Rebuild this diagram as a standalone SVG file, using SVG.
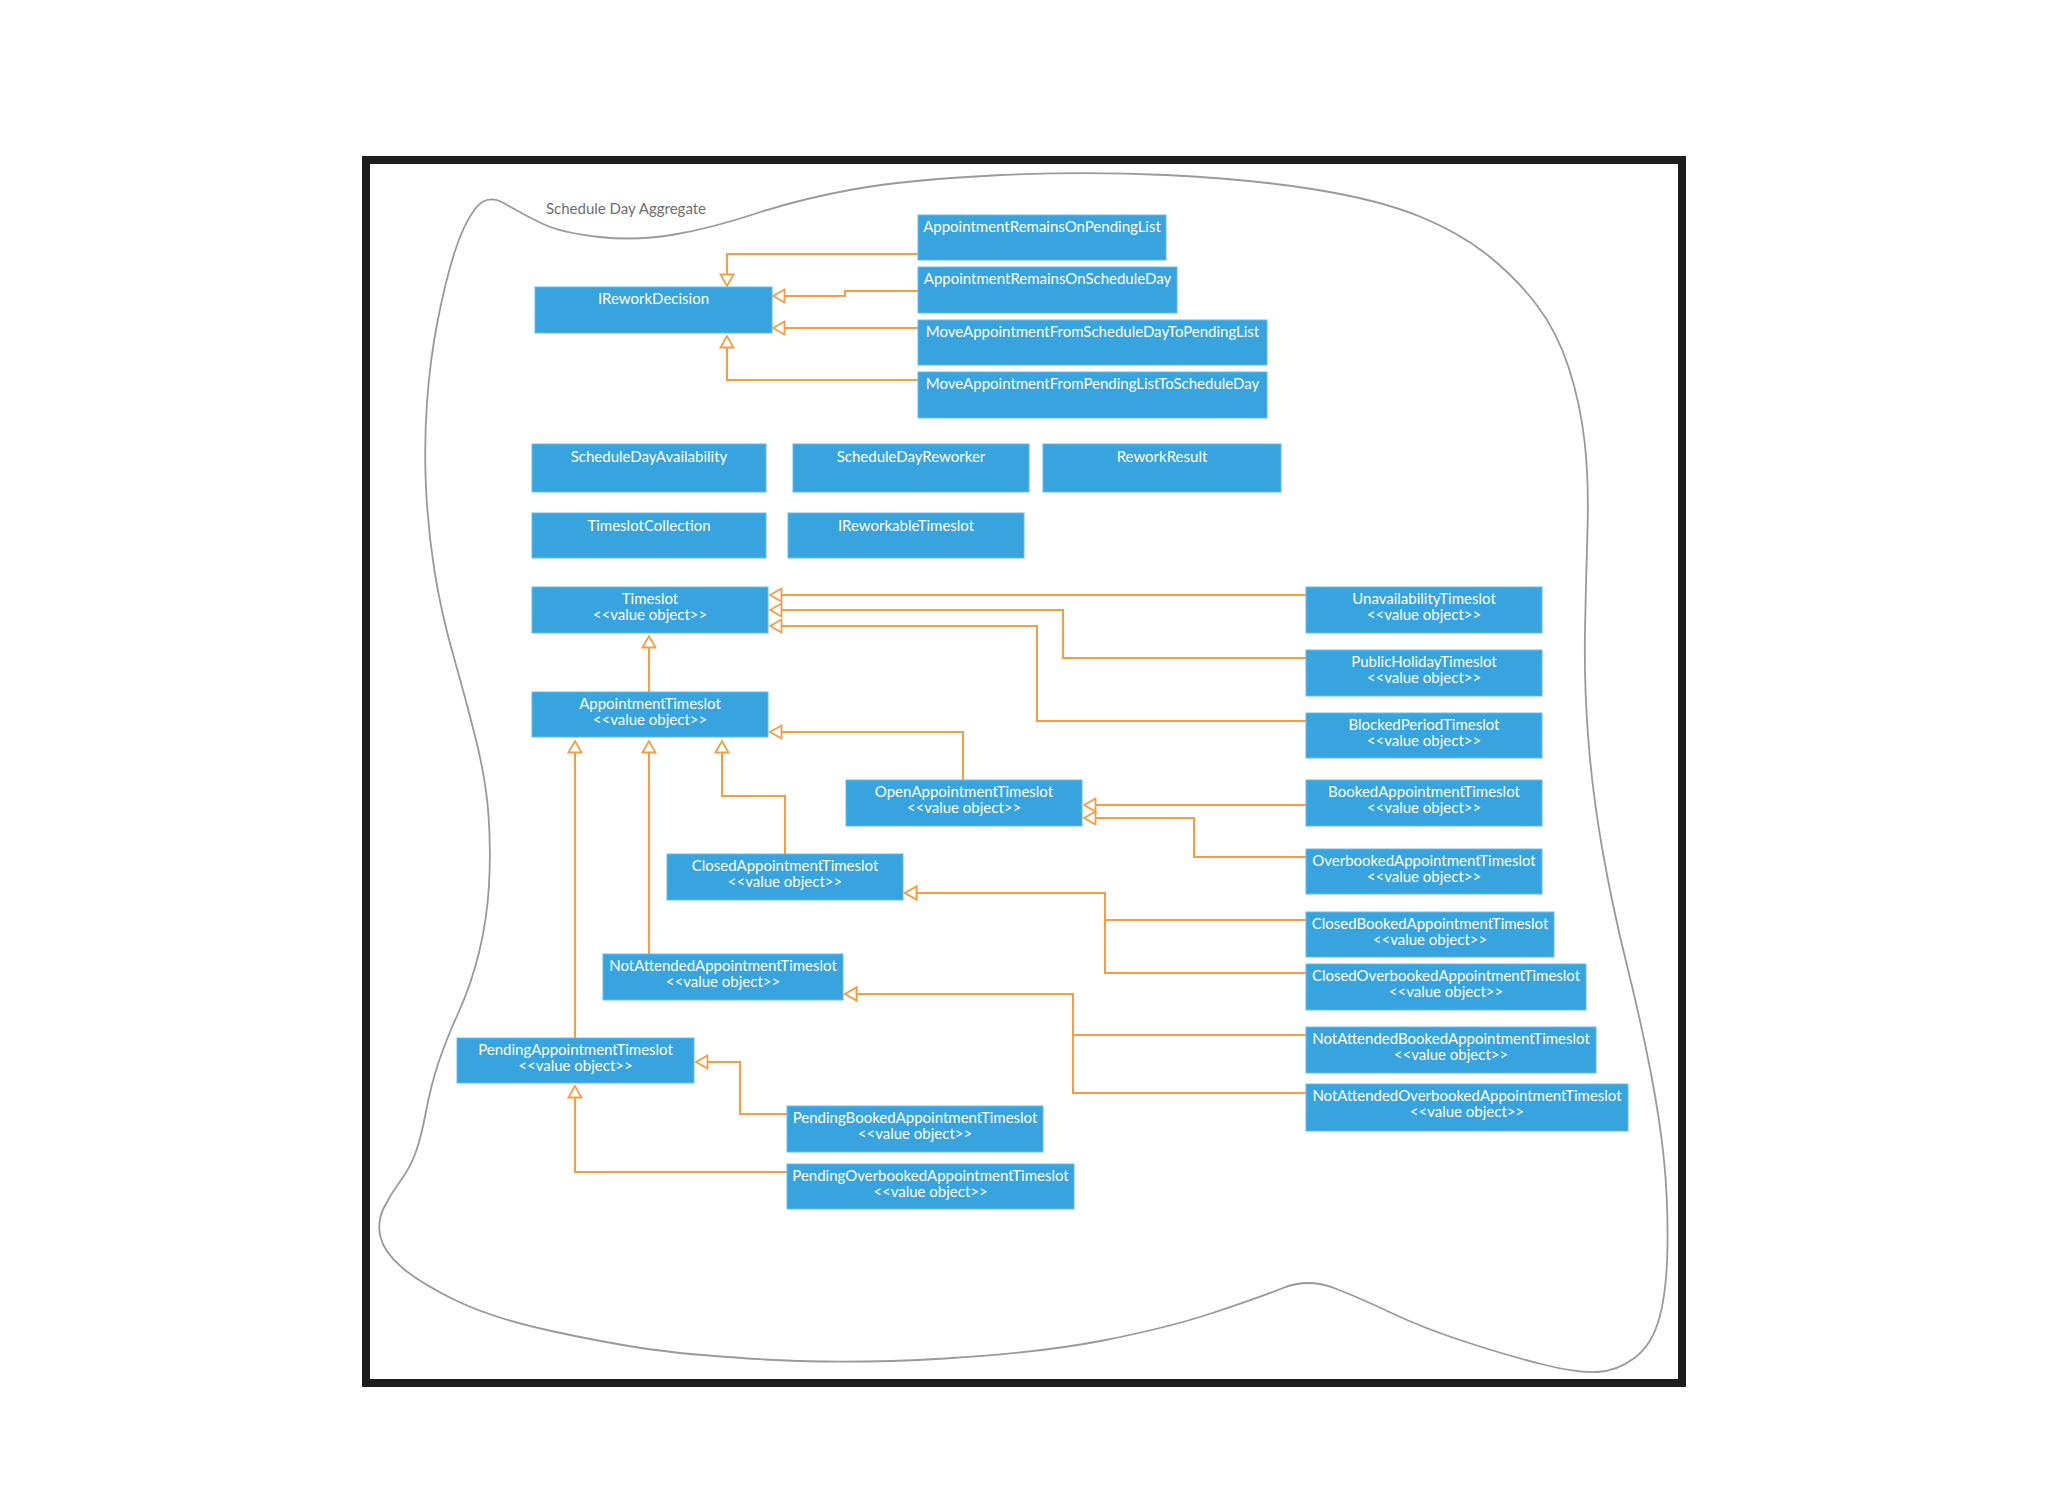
<svg xmlns="http://www.w3.org/2000/svg" width="2048" height="1492" viewBox="0 0 2048 1492">
<defs>
<style>
.node rect{fill:#37a3df;stroke:#66bbeb;stroke-width:1}
.node text{font-family:Lato,"Noto Sans","Liberation Sans",sans-serif;font-size:15px;fill:#ffffff;text-anchor:middle}
.conn path{fill:none;stroke:#f49d43;stroke-width:2;marker-end:url(#tri)}
.title{font-family:Lato,"Noto Sans","Liberation Sans",sans-serif;font-size:15px;fill:#6e6e6e}
</style>
<marker id="tri" markerUnits="userSpaceOnUse" markerWidth="16" markerHeight="18" refX="13" refY="8" orient="auto" viewBox="0 0 16 18">
<path d="M1.5,1.5 L13,8 L1.5,14.5 Z" fill="#ffffff" stroke="#f49d43" stroke-width="1.8" stroke-linejoin="miter"/>
</marker>
</defs>
<rect x="0" y="0" width="2048" height="1492" fill="#ffffff"/>
<rect id="frame" x="366" y="160" width="1316" height="1223" fill="none" stroke="#1c1c1c" stroke-width="8"/>
<g id="aggregate">
<path d="M475,209 Q487,193 504.5,203.5 Q522,214 542,223.5 Q562,233 599.5,237 Q637,241 674.5,234.5 Q712,228 756,213.5 Q800,199 852.5,189.5 Q905,180 993,175.5 Q1081,171 1165.5,175 Q1250,179 1315,189.5 Q1380,200 1421,217 Q1462,234 1490,257 Q1518,280 1537.5,306 Q1557,332 1568.5,367 Q1580,402 1584.5,441 Q1589,480 1587.5,530 Q1586,580 1585,630 Q1584,680 1588,735 Q1592,790 1602,847.5 Q1612,905 1626.5,963.5 Q1641,1022 1650.5,1071 Q1660,1120 1664,1160 Q1668,1200 1667.5,1245 Q1667,1290 1659.5,1317.5 Q1652,1345 1634.5,1358 Q1617,1371 1597,1372 Q1577,1373 1543,1364.5 Q1509,1356 1466,1342 Q1423,1328 1391.5,1313 Q1360,1298 1334,1288 Q1308,1278 1283,1288 Q1258,1298 1212.5,1313 Q1167,1328 1103,1340.5 Q1039,1353 945,1358.5 Q851,1364 775.5,1360 Q700,1356 655.5,1350 Q611,1344 551.5,1331 Q492,1318 456,1300.5 Q420,1283 402,1267.5 Q384,1252 380.5,1237 Q377,1222 383.5,1208.5 Q390,1195 400,1181.5 Q410,1168 415.5,1153 Q421,1138 426,1111.5 Q431,1085 438.5,1062.5 Q446,1040 458.5,1012.5 Q471,985 479,952.5 Q487,920 489,885 Q491,850 488.5,815 Q486,780 476,740 Q466,700 453.5,656 Q441,612 434.5,571 Q428,530 426,487.5 Q424,445 427,402.5 Q430,360 437.5,321.5 Q445,283 454,254 Q463,225 475,209 Z" fill="none" stroke="#9a9a9a" stroke-width="1.8"/>
<text class="title" x="546" y="214">Schedule Day Aggregate</text>
</g>
<g id="connectors" class="conn">
<path d="M918,254 H727 V286"/>
<path d="M918,291 H845 V296 H773"/>
<path d="M918,328 H773"/>
<path d="M918,380 H727 V336"/>
<path d="M1306,595 H770"/>
<path d="M1306,658 H1063 V610 H770"/>
<path d="M1306,721 H1037 V626 H770"/>
<path d="M649,692 V636"/>
<path d="M963,780 V732 H770"/>
<path d="M1306,805 H1084"/>
<path d="M1306,857 H1194 V818 H1084"/>
<path d="M785,854 V796 H722 V741"/>
<path d="M649,954 V741"/>
<path d="M575,1038 V741"/>
<path d="M1306,920 H1105 V893 H905"/>
<path d="M1306,973 H1105 V893 H905"/>
<path d="M1306,1035 H1073 V994 H845"/>
<path d="M1306,1093 H1073 V994 H845"/>
<path d="M787,1114 H740 V1062 H696"/>
<path d="M787,1172 H575 V1086"/>
</g>
<g id="IReworkDecision" class="node"><rect x="535" y="287" width="237" height="46"/><text x="653.5" y="304">IReworkDecision</text></g>
<g id="AppointmentRemainsOnPendingList" class="node"><rect x="918" y="215" width="248" height="45"/><text x="1042" y="232">AppointmentRemainsOnPendingList</text></g>
<g id="AppointmentRemainsOnScheduleDay" class="node"><rect x="918" y="267" width="259" height="46"/><text x="1047.5" y="284">AppointmentRemainsOnScheduleDay</text></g>
<g id="MoveAppointmentFromScheduleDayToPendingList" class="node"><rect x="918" y="320" width="349" height="45"/><text x="1092.5" y="337">MoveAppointmentFromScheduleDayToPendingList</text></g>
<g id="MoveAppointmentFromPendingListToScheduleDay" class="node"><rect x="918" y="372" width="349" height="46"/><text x="1092.5" y="389">MoveAppointmentFromPendingListToScheduleDay</text></g>
<g id="ScheduleDayAvailability" class="node"><rect x="532" y="444" width="234" height="48"/><text x="649" y="462">ScheduleDayAvailability</text></g>
<g id="ScheduleDayReworker" class="node"><rect x="793" y="444" width="236" height="48"/><text x="911" y="462">ScheduleDayReworker</text></g>
<g id="ReworkResult" class="node"><rect x="1043" y="444" width="238" height="48"/><text x="1162" y="462">ReworkResult</text></g>
<g id="TimeslotCollection" class="node"><rect x="532" y="513" width="234" height="45"/><text x="649" y="531">TimeslotCollection</text></g>
<g id="IReworkableTimeslot" class="node"><rect x="788" y="513" width="236" height="45"/><text x="906" y="531">IReworkableTimeslot</text></g>
<g id="Timeslot" class="node"><rect x="532" y="587" width="236" height="46"/><text x="650" y="604">Timeslot</text><text x="650" y="620">&lt;&lt;value object&gt;&gt;</text></g>
<g id="AppointmentTimeslot" class="node"><rect x="532" y="692" width="236" height="45"/><text x="650" y="709">AppointmentTimeslot</text><text x="650" y="725">&lt;&lt;value object&gt;&gt;</text></g>
<g id="UnavailabilityTimeslot" class="node"><rect x="1306" y="587" width="236" height="46"/><text x="1424" y="604">UnavailabilityTimeslot</text><text x="1424" y="620">&lt;&lt;value object&gt;&gt;</text></g>
<g id="PublicHolidayTimeslot" class="node"><rect x="1306" y="650" width="236" height="46"/><text x="1424" y="667">PublicHolidayTimeslot</text><text x="1424" y="683">&lt;&lt;value object&gt;&gt;</text></g>
<g id="BlockedPeriodTimeslot" class="node"><rect x="1306" y="713" width="236" height="45"/><text x="1424" y="730">BlockedPeriodTimeslot</text><text x="1424" y="746">&lt;&lt;value object&gt;&gt;</text></g>
<g id="BookedAppointmentTimeslot" class="node"><rect x="1306" y="780" width="236" height="46"/><text x="1424" y="797">BookedAppointmentTimeslot</text><text x="1424" y="813">&lt;&lt;value object&gt;&gt;</text></g>
<g id="OpenAppointmentTimeslot" class="node"><rect x="846" y="780" width="236" height="46"/><text x="964" y="797">OpenAppointmentTimeslot</text><text x="964" y="813">&lt;&lt;value object&gt;&gt;</text></g>
<g id="OverbookedAppointmentTimeslot" class="node"><rect x="1306" y="849" width="236" height="45"/><text x="1424" y="866">OverbookedAppointmentTimeslot</text><text x="1424" y="882">&lt;&lt;value object&gt;&gt;</text></g>
<g id="ClosedAppointmentTimeslot" class="node"><rect x="667" y="854" width="236" height="46"/><text x="785" y="871">ClosedAppointmentTimeslot</text><text x="785" y="887">&lt;&lt;value object&gt;&gt;</text></g>
<g id="ClosedBookedAppointmentTimeslot" class="node"><rect x="1306" y="912" width="248" height="45"/><text x="1430" y="929">ClosedBookedAppointmentTimeslot</text><text x="1430" y="945">&lt;&lt;value object&gt;&gt;</text></g>
<g id="ClosedOverbookedAppointmentTimeslot" class="node"><rect x="1306" y="964" width="280" height="46"/><text x="1446" y="981">ClosedOverbookedAppointmentTimeslot</text><text x="1446" y="997">&lt;&lt;value object&gt;&gt;</text></g>
<g id="NotAttendedAppointmentTimeslot" class="node"><rect x="603" y="954" width="240" height="46"/><text x="723" y="971">NotAttendedAppointmentTimeslot</text><text x="723" y="987">&lt;&lt;value object&gt;&gt;</text></g>
<g id="NotAttendedBookedAppointmentTimeslot" class="node"><rect x="1306" y="1027" width="290" height="46"/><text x="1451" y="1044">NotAttendedBookedAppointmentTimeslot</text><text x="1451" y="1060">&lt;&lt;value object&gt;&gt;</text></g>
<g id="NotAttendedOverbookedAppointmentTimeslot" class="node"><rect x="1306" y="1084" width="322" height="47"/><text x="1467" y="1101">NotAttendedOverbookedAppointmentTimeslot</text><text x="1467" y="1117">&lt;&lt;value object&gt;&gt;</text></g>
<g id="PendingAppointmentTimeslot" class="node"><rect x="457" y="1038" width="237" height="45"/><text x="575.5" y="1055">PendingAppointmentTimeslot</text><text x="575.5" y="1071">&lt;&lt;value object&gt;&gt;</text></g>
<g id="PendingBookedAppointmentTimeslot" class="node"><rect x="787" y="1106" width="256" height="46"/><text x="915" y="1123">PendingBookedAppointmentTimeslot</text><text x="915" y="1139">&lt;&lt;value object&gt;&gt;</text></g>
<g id="PendingOverbookedAppointmentTimeslot" class="node"><rect x="787" y="1164" width="287" height="45"/><text x="930.5" y="1181">PendingOverbookedAppointmentTimeslot</text><text x="930.5" y="1197">&lt;&lt;value object&gt;&gt;</text></g>
</svg>
